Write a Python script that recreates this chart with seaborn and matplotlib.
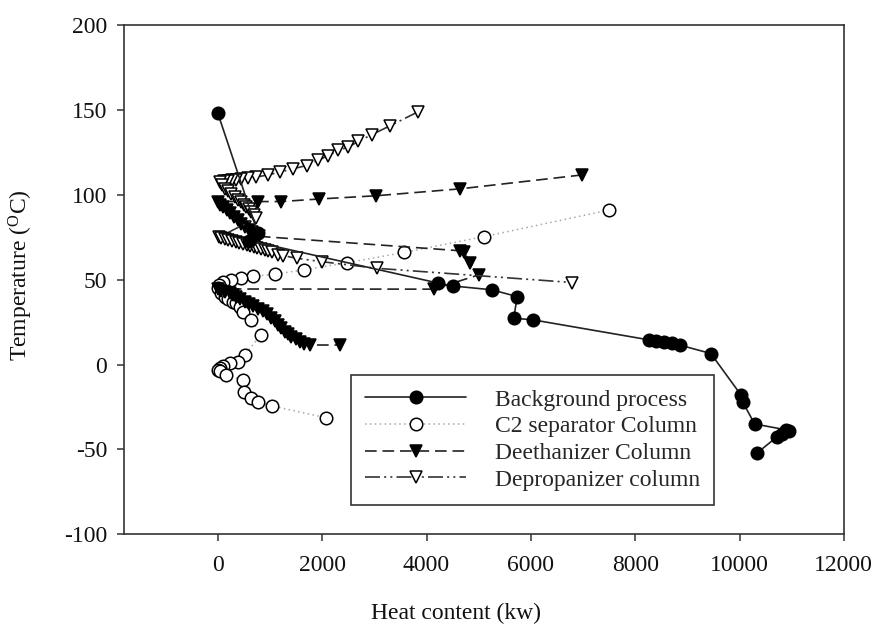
import matplotlib
matplotlib.use("Agg")
import matplotlib.pyplot as plt
import seaborn as sns

# ---- Heat content (kW) and temperature (deg C) of each composite curve ----
bg_heat = [0, 765, 600, 4220, 4500, 5257, 5738, 5673, 6046, 8270, 8400, 8550,
           8700, 8850, 9450, 10030, 10060, 10290, 10900, 10940, 10820, 10720, 10330]
bg_temp = [148, 77.6, 73, 48, 46.3, 44, 40, 27.3, 26.3, 14.5, 14, 13.5,
           12.5, 11.5, 6.5, -18, -22, -35, -38.5, -39, -41, -42.5, -52.3]

c2_heat = [7500, 5110, 3570, 2480, 1650, 1090, 670, 450, 250, 100, 30, 0,
           60, 130, 200, 290, 354, 417, 481, 642, 830,
           513, 385, 225, 100, 33, 10, 50, 162,
           481, 494, 642, 770, 1039, 2071]
c2_temp = [91, 75.4, 66, 60, 55.8, 53.2, 51.9, 50.9, 49.9, 48.8, 47, 45,
           42, 40, 38.5, 37, 36, 34, 31, 26, 17.5,
           5.7, 1.7, 1.1, -1, -2.2, -3, -4, -6.1,
           -9.1, -16, -19.9, -21.9, -24.4, -31.3]

de_heat = [6990, 4650, 3030, 1940, 1220, 769, 0,
           40, 100, 170, 240, 310, 380, 450, 520, 590, 660, 730, 790,
           4650, 4710, 4840, 5000, 4140, 0,
           60, 130, 225, 290, 354, 430, 513, 590, 673, 770, 865, 950, 1027,
           1090, 1154, 1220, 1283, 1350, 1412, 1490, 1571, 1660, 1763, 2350]
de_temp = [111.7, 103.5, 99.4, 97.5, 96, 96, 96,
           94, 92.5, 91, 89, 87, 85, 83, 81, 79.5, 78, 76.5, 75.5,
           67, 66.5, 60, 52.8, 44.4, 44.5,
           43.5, 43, 42, 41, 40, 38.5, 37, 35.5, 34.2, 33, 31.3, 29.5, 27.3,
           25.5, 23.3, 21.5, 19.4, 18, 16.4, 15, 13.5, 12.3, 11.5, 11.5]

dp_heat = [3846, 3302, 2950, 2692, 2500, 2308, 2115, 1923, 1700, 1442, 1187, 962,
           738, 577, 450, 354, 270, 190, 110, 40,
           80, 140, 200, 260, 320, 380, 440, 500, 546, 600, 642, 690, 738,
           20, 60, 130, 200, 270, 340, 410, 480, 550, 620, 690, 760, 830, 900,
           970, 1040, 1150, 1250, 1508, 1988, 3046, 6796]
dp_temp = [149, 140.6, 135.4, 131.4, 128.1, 126.1, 123.1, 120.2, 117.2, 115.3, 113.3, 111.7,
           110.4, 109.8, 109.3, 108.8, 108.5, 108.2, 108, 107.5,
           105.5, 103.5, 102, 100.3, 98.7, 97, 95.5, 94, 93, 91.5, 90, 88, 86.2,
           75, 74.3, 73.8, 73.2, 72.6, 72, 71.4, 70.8, 70.2, 69.6, 69, 68.4, 67.8, 67.2,
           66.6, 66, 64.6, 64.2, 62.6, 60.6, 56.7, 48.3]

series_labels = ["Background process", "C2 separator Column",
                 "Deethanizer Column", "Depropanizer column"]
x_ticks = [0, 2000, 4000, 6000, 8000, 10000, 12000]
y_ticks = [-100, -50, 0, 50, 100, 150, 200]

sns.set_style("ticks")
plt.rcParams["font.family"] = ["Liberation Serif", "DejaVu Serif"]
plt.rcParams["mathtext.fontset"] = "custom"
plt.rcParams["mathtext.rm"] = "Liberation Serif"
plt.rcParams["mathtext.it"] = "Liberation Serif:italic"
plt.rcParams["axes.unicode_minus"] = False

FS = 17

fig = plt.figure(figsize=(8.79, 6.24), dpi=100)
ax = fig.add_axes([0.141, 0.1437, 0.819, 0.8163])

common = dict(ax=ax, sort=False, estimator=None, legend=False, markersize=9,
              markeredgewidth=1.1)

sns.lineplot(x=c2_heat, y=c2_temp, color="#a8a8a8", linewidth=1.1,
             linestyle=(0, (1, 2.2)), marker="o", markerfacecolor="white",
             markeredgecolor="black", label=series_labels[1], zorder=2, **common)
sns.lineplot(x=de_heat, y=de_temp, color="#222222", linewidth=1.2,
             linestyle=(0, (7, 3.5)), marker="v", markerfacecolor="black",
             markeredgecolor="black", label=series_labels[2], zorder=3, **common)
sns.lineplot(x=dp_heat, y=dp_temp, color="#333333", linewidth=1.2,
             linestyle=(0, (9, 2.5, 1.2, 2.5, 1.2, 2.5)), marker="v",
             markerfacecolor="white", markeredgecolor="black",
             label=series_labels[3], zorder=4, **common)
sns.lineplot(x=bg_heat, y=bg_temp, color="#222222", linewidth=1.2,
             linestyle="-", marker="o", markerfacecolor="black",
             markeredgecolor="black", label=series_labels[0], zorder=5, **common)

ax.set_xlim(-1800, 12000)
ax.set_ylim(-100, 200)
ax.set_xticks(x_ticks)
ax.set_yticks(y_ticks)
ax.tick_params(axis="both", direction="out", length=5, width=1.1,
               color="#333333", labelsize=FS, labelcolor="#111111")
ax.tick_params(axis="x", pad=10)
ax.tick_params(axis="y", pad=7)
for sp in ax.spines.values():
    sp.set_visible(True)
    sp.set_color("#333333")
    sp.set_linewidth(1.2)

ax.set_xlabel("Heat content (kw)", fontsize=FS, color="#111111")
ax.set_ylabel(r"Temperature ($^{\mathrm{O}}$C)", fontsize=FS, color="#111111")
ax.xaxis.set_label_coords(0.461, -0.135)
ax.yaxis.set_label_coords(-0.124, 0.509)

handles, labels = ax.get_legend_handles_labels()
order = [labels.index(s) for s in series_labels]
leg = ax.legend([handles[i] for i in order], [labels[i] for i in order],
                loc="upper left", bbox_to_anchor=(0.315, 0.313),
                fontsize=FS, frameon=True, fancybox=False, shadow=False,
                numpoints=1, handlelength=4.3, handletextpad=1.2,
                borderpad=0.6, labelspacing=0.22, borderaxespad=0)
leg.get_frame().set_edgecolor("#333333")
leg.get_frame().set_linewidth(1.2)
leg.get_frame().set_alpha(1)

fig.savefig("out.png", dpi=100)
